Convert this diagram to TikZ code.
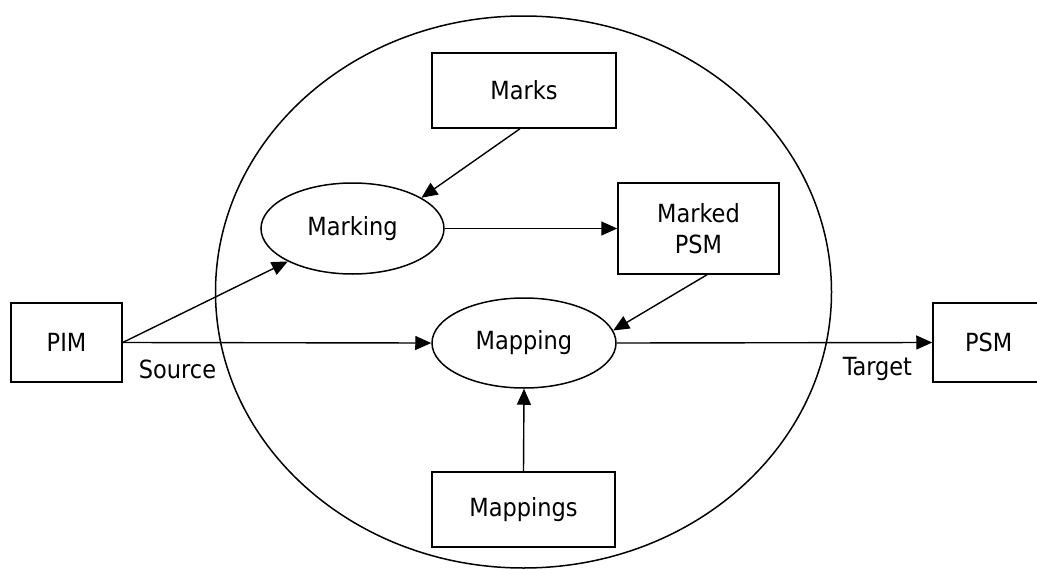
\documentclass[tikz,border=0pt]{standalone}
\usepackage{fontspec}
\setmainfont{DejaVu Sans Condensed}
\usetikzlibrary{shapes.geometric,arrows.meta}
\begin{document}
\begin{tikzpicture}[x=1pt,y=-1pt,
  every node/.style={font=\fontsize{25}{31}\selectfont, inner sep=0pt},
  box/.style={draw, line width=1.5pt, rectangle, align=center},
  proc/.style={draw, line width=1.5pt, ellipse},
  label/.style={anchor=center},
  flow/.style={line width=1.4pt, -{Triangle[length=16pt,width=14pt]}}]
\useasboundingbox (0,0) rectangle (1037,570);
\clip (0,0) rectangle (1037,570);

% transformation boundary
\draw[line width=1.5pt] (523.5,292) ellipse [x radius=308, y radius=276];

% models and inputs
\node[box, minimum width=111pt, minimum height=79pt] (pim) at (66.5,342.5) {PIM};
\node[box, minimum width=110pt, minimum height=79pt, text width=110pt, align=left] (psm) at (988,342.5) {\hspace{32pt}PSM};
\node[box, minimum width=184pt, minimum height=75pt] (marks) at (524,90.5) {Marks};
\node[box, minimum width=161pt, minimum height=91pt] (marked) at (698.5,228.5) {Marked\\PSM};
\node[box, minimum width=183pt, minimum height=75pt] (mappings) at (523.5,509.5) {Mappings};

% processes
\node[proc, minimum width=183pt, minimum height=91pt] (marking) at (352.5,228.5) {Marking};
\node[proc, minimum width=184pt, minimum height=90pt] (mapping) at (524,343) {Mapping};

% labels
\node[label] (source) at (177.5,369) {Source};
\node[label] (target) at (877.5,369) {Target};

% connectors
\draw[flow] ([xshift=-4pt]marks.south) -- (marking.24);
\draw[flow] (pim.east) -- (marking.207);
\draw[flow] (pim.east) -- (mapping.west);
\draw[flow] (marking.east) -- (marked.west);
\draw[flow] ([xshift=8.5pt]marked.south) -- (mapping.8);
\draw[flow] (mapping.east) -- (psm.west);
\draw[flow] (mappings.north) -- (mapping.south);
\end{tikzpicture}
\end{document}
